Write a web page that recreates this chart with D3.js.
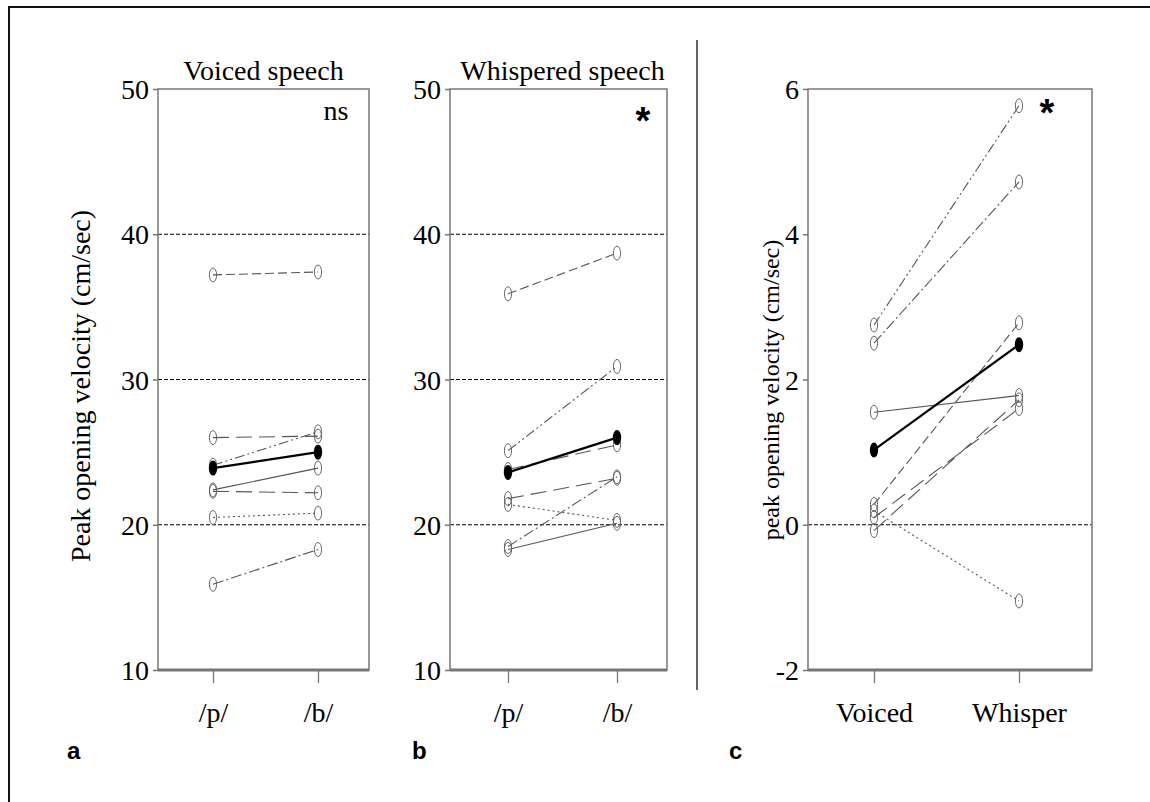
<!DOCTYPE html>
<html>
<head>
<meta charset="utf-8">
<script src="https://cdn.jsdelivr.net/npm/d3@7"></script>
<style>
  body { margin: 0; background: #fff; }
</style>
</head>
<body>
<svg id="chart" width="1150" height="802"></svg>
<script>
// speaking conditions / stops
var stops = ['/p/', '/b/'];
var modes = ['Voiced', 'Whisper'];

// 7 subjects, values (cm/sec)
var voicedP   = [37.2, 26.0, 24.1, 22.4, 22.3, 20.5, 15.9];
var voicedB   = [37.4, 26.1, 26.4, 23.9, 22.2, 20.8, 18.3];
var whisperP  = [35.9, 21.8, 25.1, 18.3, 23.8, 21.4, 18.5];
var whisperB  = [38.7, 23.2, 30.9, 20.1, 25.5, 20.3, 23.3];
// b minus p differences
var diffVoiced  = [0.28, 0.10, 2.75, 1.55, -0.08, 0.19, 2.50];
var diffWhisper = [2.78, 1.60, 5.77, 1.78, 1.72, -1.05, 4.72];

// group means
var meanA = [23.9, 25.0];
var meanB = [23.6, 26.0];
var meanC = [1.03, 2.48];

var ticksAB = [10, 20, 30, 40, 50];
var gridAB = [20, 30, 40];
var ticksC = [-2, 0, 2, 4, 6];
var gridC = [0];

// line style per subject
var dashes = ['9,4', '16,7', '10,3,2,3,2,3', null, '16,7', '2,3', '11,3,2,3'];

var SERIF = '"Liberation Serif", "Times New Roman", Times, serif';
var SANS = '"Liberation Sans", Arial, Helvetica, sans-serif';

var svg = d3.select('#chart');

// outer frame
svg.append('rect')
    .attr('x', 9).attr('y', 7)
    .attr('width', 1160).attr('height', 820)
    .attr('fill', 'none')
    .attr('stroke', '#111')
    .attr('stroke-width', 2);

// separator between b and c
svg.append('line')
    .attr('x1', 697).attr('x2', 697)
    .attr('y1', 40).attr('y2', 690)
    .attr('stroke', '#111').attr('stroke-width', 1.3);

function drawPanel(opt) {
    var g = svg.append('g');
    var x = d3.scalePoint().domain(opt.cats).range([opt.cx0, opt.cx1]);
    var y = d3.scaleLinear().domain(opt.domain).range([670, 89]);

    // grid lines
    g.selectAll('.grid').data(opt.grid).enter().append('line')
        .attr('x1', opt.left).attr('x2', opt.right)
        .attr('y1', function(d) { return y(d); })
        .attr('y2', function(d) { return y(d); })
        .attr('stroke', '#000').attr('stroke-width', 1)
        .attr('stroke-dasharray', '4,2');

    // frame of the plot
    g.append('rect')
        .attr('x', opt.left).attr('y', y(opt.domain[1]))
        .attr('width', opt.right - opt.left)
        .attr('height', y(opt.domain[0]) - y(opt.domain[1]))
        .attr('fill', 'none').attr('stroke', '#777').attr('stroke-width', 1.5);

    // y axis
    var ya = g.append('g')
        .attr('transform', 'translate(' + opt.left + ',0)')
        .call(d3.axisLeft(y).tickValues(opt.ticks).tickSize(5).tickPadding(4)
            .tickFormat(function(d) { return String(d); }));
    ya.select('.domain').remove();
    ya.selectAll('line').attr('stroke', '#777').attr('stroke-width', 1.5);
    ya.selectAll('text').style('font-family', SERIF).style('font-size', '28px').attr('dy', '0.34em');

    // x axis
    var xa = g.append('g')
        .attr('transform', 'translate(0,' + y(opt.domain[0]) + ')')
        .call(d3.axisBottom(x).tickSize(13).tickPadding(19));
    xa.select('.domain').attr('d', 'M' + opt.left + ',0H' + opt.right)
        .attr('stroke', '#777').attr('stroke-width', 3);
    xa.selectAll('line').attr('stroke', '#777').attr('stroke-width', 1.3);
    xa.selectAll('text').style('font-family', SERIF).style('font-size', '28px');

    // subject lines
    opt.first.forEach(function(v, i) {
        var pts = [v, opt.second[i]];
        g.append('line')
            .attr('x1', x(opt.cats[0])).attr('y1', y(pts[0]))
            .attr('x2', x(opt.cats[1])).attr('y2', y(pts[1]))
            .attr('stroke', '#555').attr('stroke-width', 1.1)
            .attr('stroke-dasharray', dashes[i]);
    });
    opt.first.forEach(function(v, i) {
        [v, opt.second[i]].forEach(function(d, j) {
            g.append('ellipse')
                .attr('cx', x(opt.cats[j])).attr('cy', y(d))
                .attr('rx', 3.6).attr('ry', 7)
                .attr('fill', 'none').attr('stroke', '#666').attr('stroke-width', 1);
        });
    });

    // mean
    g.append('line')
        .attr('x1', x(opt.cats[0])).attr('y1', y(opt.mean[0]))
        .attr('x2', x(opt.cats[1])).attr('y2', y(opt.mean[1]))
        .attr('stroke', '#000').attr('stroke-width', 2.2);
    g.selectAll('.mean').data(opt.mean).enter().append('ellipse')
        .attr('cx', function(d, j) { return x(opt.cats[j]); })
        .attr('cy', function(d) { return y(d); })
        .attr('rx', 4.2).attr('ry', 7.5)
        .attr('fill', '#000');

    if (opt.title) {
        g.append('text')
            .attr('x', (opt.left + opt.right) / 2 + opt.titleDx).attr('y', 80)
            .attr('text-anchor', 'middle')
            .style('font-family', SERIF)
            .style('font-size', '28px')
            .text(opt.title);
    }
    if (opt.ylabel) {
        g.append('text')
            .attr('transform', 'translate(' + opt.ylabelX + ',' + opt.ylabelY + ') rotate(-90)')
            .attr('text-anchor', 'middle')
            .style('font-family', SERIF)
            .style('font-size', opt.ylabelSize)
            .text(opt.ylabel);
    }
    g.append('text')
        .attr('x', opt.markX).attr('y', opt.markY)
        .attr('text-anchor', 'middle')
        .style('font-family', opt.markFont)
        .style('font-size', opt.markSize)
        .style('font-weight', opt.markWeight)
        .text(opt.mark);

    g.append('text')
        .attr('x', opt.labelX).attr('y', 759)
        .style('font-family', SANS)
        .style('font-weight', 'bold')
        .style('font-size', '24px')
        .text(opt.label);
}

drawPanel({
    cats: stops, domain: [10, 50], ticks: ticksAB, grid: gridAB,
    left: 158, right: 369, cx0: 213, cx1: 318,
    first: voicedP, second: voicedB, mean: meanA,
    title: 'Voiced speech', titleDx: 0,
    ylabel: 'Peak opening velocity (cm/sec)', ylabelX: 90, ylabelY: 386, ylabelSize: '28px',
    mark: 'ns', markX: 336, markY: 120, markSize: '28px', markWeight: 'normal', markFont: SERIF,
    label: 'a', labelX: 67
});

drawPanel({
    cats: stops, domain: [10, 50], ticks: ticksAB, grid: gridAB,
    left: 450, right: 667, cx0: 508, cx1: 617,
    first: whisperP, second: whisperB, mean: meanB,
    title: 'Whispered speech', titleDx: 4,
    mark: '*', markX: 643, markY: 134, markSize: '38px', markWeight: 'bold', markFont: SANS,
    label: 'b', labelX: 412
});

drawPanel({
    cats: modes, domain: [-2, 6], ticks: ticksC, grid: gridC,
    left: 808, right: 1092, cx0: 874, cx1: 1019,
    first: diffVoiced, second: diffWhisper, mean: meanC,
    ylabel: 'peak opening velocity (cm/sec)', ylabelX: 779, ylabelY: 390, ylabelSize: '24px',
    mark: '*', markX: 1047, markY: 126, markSize: '38px', markWeight: 'bold', markFont: SANS,
    label: 'c', labelX: 729
});
</script>
</body>
</html>
